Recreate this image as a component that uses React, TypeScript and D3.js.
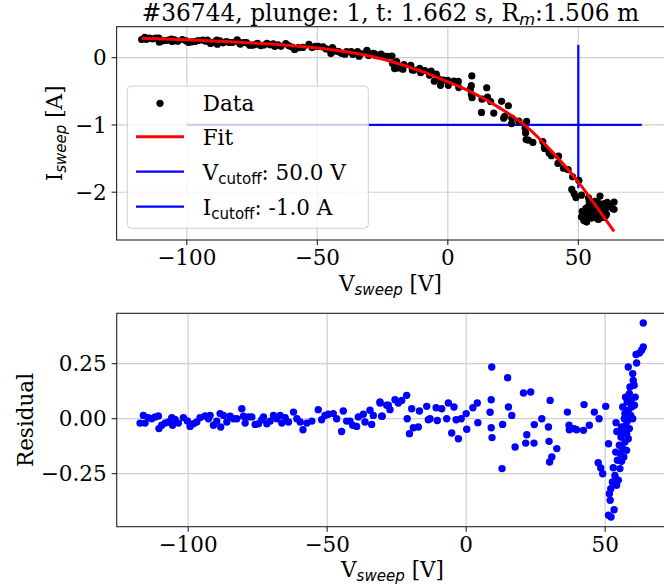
import React from 'react';
import * as d3 from 'd3';

// Sweep voltage [V] of each sample (shared by both panels)
const sweepV = [
  -117.3, -116.1, -115.5, -114.3, -113.1, -111.9, -110.7, -110.5, -109.5, -108.3,
  -107.1, -105.9, -105.6, -104.7, -103.5, -101.7, -100.3, -99.3, -98.1, -96.9,
  -95.7, -93.9, -92.7, -92.1, -90.9, -89.7, -88.5, -88.3, -87.3, -86.1,
  -84.9, -83.7, -82.5, -80.7, -80.1, -79.5, -78.3, -77.1, -75.9, -74.7,
  -73.5, -72.9, -71.7, -70.5, -69.3, -68.1, -66.9, -66.3, -65.1, -63.9,
  -62.1, -60.9, -59.7, -58.7, -57.3, -55.5, -53.2, -52.0, -50.8, -49.6,
  -47.8, -46.6, -44.8, -44.2, -43.0, -41.8, -40.8, -39.4, -38.8, -37.0,
  -36.4, -34.6, -34.0, -33.4, -31.0, -30.4, -28.6,
  -31.0, -30.2, -28.0, -27.4, -25.6, -24.4, -23.2, -21.4, -21.2, -20.4,
  -19.6, -19.0, -17.2, -16.8, -14.2, -13.6, -13.0, -10.8, -10.4, -8.8,
  -7.0, -6.4, -5.2, -4.4, -3.6, -2.8, -1.8, 0.0, 0.2, 2.4,
  4.0, 4.2, 8.6, 9.0, 9.0, 9.2, 9.3, 12.9, 13.1, 14.9,
  15.2, 16.4, 17.6, 20.6, 21.4, 21.8, 23.2, 24.4, 24.5, 27.2,
  29.6, 29.8, 30.0, 30.2, 30.8, 32.6, 36.4, 37.0, 37.1, 38.8,
  39.7, 42.2, 42.4, 44.3, 46.1, 47.5, 47.8, 48.4, 49.1, 50.2,
  51.2, 51.2, 51.5, 51.8, 52.0, 52.1, 52.6, 52.9, 53.2, 53.5,
  53.8, 53.9, 54.2, 54.1, 54.4, 54.7, 55.1, 55.3, 55.5, 55.7,
  55.9, 55.9, 56.3, 56.3, 56.5, 56.7, 56.9, 57.1, 57.1, 57.3,
  57.5, 57.7, 57.7, 57.9, 58.1, 58.3, 58.3, 58.3, 58.7, 58.7,
  58.9, 59.2, 59.3, 59.5, 59.9, 59.9, 60.1, 60.4, 60.5, 60.8,
  61.1, 61.3, 62.3, 63.1, 63.7, 63.7,
];

// Measured probe current [A]
const currentI = [
  0.27, 0.30, 0.27, 0.29, 0.28, 0.29, 0.29, 0.23, 0.25, 0.255,
  0.26, 0.275, 0.24, 0.265, 0.245, 0.27, 0.25, 0.225, 0.235, 0.24,
  0.255, 0.26, 0.245, 0.26, 0.21, 0.23, 0.26, 0.2, 0.25, 0.22,
  0.24, 0.227, 0.225, 0.266, 0.231, 0.199, 0.225, 0.222, 0.186, 0.186,
  0.201, 0.213, 0.179, 0.188, 0.211, 0.193, 0.205, 0.169, 0.191, 0.168,
  0.209, 0.176, 0.158, 0.121, 0.148, 0.152, 0.199, 0.15, 0.167, 0.168,
  0.16, 0.13, 0.061, 0.15, 0.097, 0.09, 0.065, 0.051, 0.09, 0.089,
  0.05, 0.09, 0.022, 0.059, 0.098, 0.034, 0.064,
  0.108, 0.036, 0.057, 0.03, 0.053, 0.024, 0.021, 0.023, -0.086, -0.163,
  -0.06, -0.153, -0.172, -0.103, -0.114, -0.182, -0.184, -0.16, -0.223, -0.192,
  -0.262, -0.199, -0.352, -0.245, -0.315, -0.412, -0.335, -0.337, -0.411, -0.348,
  -0.353, -0.445, -0.469, -0.417, -0.545, -0.272, -0.595, -0.814, -0.617, -0.447,
  -0.587, -0.652, -0.824, -0.649, -0.899, -0.872, -0.715, -0.98, -0.899, -0.944,
  -1.047, -1.118, -1.217, -0.945, -1.226, -1.26, -1.246, -1.33, -1.354, -1.417,
  -1.458, -1.572, -1.464, -1.644, -1.665, -1.958, -1.771, -2.022, -2.08, -1.824,
  -2.044, -2.369, -2.286, -2.331, -2.288, -2.422, -2.288, -2.238, -2.444, -2.303,
  -2.212, -2.083, -2.138, -2.378, -2.279, -2.385, -2.246, -2.363, -2.305, -2.239,
  -2.205, -2.361, -2.324, -2.135, -2.259, -2.382, -2.219, -2.335, -2.206, -2.142,
  -2.28, -2.328, -2.404, -2.195, -2.289, -2.057, -2.254, -2.383, -2.198, -2.357,
  -2.179, -2.323, -2.261, -2.301, -2.17, -2.375, -2.212, -2.25, -2.347, -2.327,
  -2.15, -2.2, -2.211, -2.243, -2.254, -2.145,
];

// Fit residual (data - fit)
const residual = [
  -0.02, 0.015, -0.02, 0.005, 0, 0.008, 0.012, -0.045, -0.03, -0.02,
  -0.015, 0.005, -0.03, -0.003, -0.02, 0.005, -0.01, -0.035, -0.023, -0.015,
  0.005, 0.012, 0, 0.015, -0.03, -0.011, 0.023, -0.038, 0.015, -0.015,
  0.011, 0, 0, 0.045, 0.011, -0.02, 0.008, 0.008, -0.026, -0.023,
  -0.005, 0.008, -0.023, -0.011, 0.015, 0, 0.015, -0.02, 0.005, -0.015,
  0.03, 0, -0.015, -0.05, -0.02, -0.011, 0.041, -0.005, 0.015, 0.02,
  0.023, 0, -0.058, 0.035, -0.011, -0.011, -0.03, -0.035, 0.008, 0.02,
  -0.015, 0.038, -0.026, 0.015, 0.071, 0.011, 0.061,
  0.076, 0.011, 0.061, 0.041, 0.086, 0.071, 0.083, 0.106, 0, -0.068,
  0.045, -0.041, -0.038, 0.035, 0.056, -0.005, 0, 0.05, -0.008, 0.045,
  0, 0.071, -0.065, 0.053, -0.005, -0.091, 0, 0.023, -0.048, 0.05,
  0.071, -0.018, 0.029, 0.086, -0.041, 0.235, -0.086, -0.227, -0.026, 0.186,
  0.053, 0.015, -0.129, 0.117, -0.111, -0.073, 0.121, -0.111, -0.027, 0,
  -0.038, -0.103, -0.197, 0.083, -0.174, -0.136, 0.03, -0.03, -0.05, -0.045,
  -0.05, -0.053, 0.064, -0.03, 0.03, -0.2, 0, -0.224, -0.25, 0.056,
  -0.114, -0.439, -0.341, -0.371, -0.318, -0.447, -0.288, -0.223, -0.414, -0.258,
  -0.152, -0.018, -0.058, -0.303, -0.189, -0.28, -0.121, -0.227, -0.159, -0.083,
  -0.038, -0.194, -0.136, 0.053, -0.061, -0.174, 0, -0.106, 0.023, 0.098,
  -0.03, -0.068, -0.144, 0.076, -0.008, 0.235, 0.038, -0.091, 0.114, -0.045,
  0.144, 0.015, 0.083, 0.053, 0.205, 0, 0.174, 0.152, 0.061, 0.098,
  0.292, 0.253, 0.298, 0.311, 0.326, 0.435,
];

// Fit curve
const fitV = [-117.3, -100, -80, -60, -50, -40, -30, -20, -10, 0, 10, 20, 30, 40, 50, 55, 60, 63.7];
const fitI = [0.29, 0.265, 0.23, 0.18, 0.145, 0.095, 0.025, -0.075, -0.205, -0.36, -0.53, -0.75, -1.02, -1.4, -1.85, -2.11, -2.38, -2.58];

// Cutoff markers
const vCutoff = 50.0;
const vCutoffSpan = [0.19, -1.94];
const iCutoff = -1.0;
const iCutoffSpan = [-100, 74.3];

const xTicks = [-100, -50, 0, 50];
const yTicksTop = [0, -1, -2];
const yTicksRes = [0.25, 0, -0.25];

const SERIF = "'DejaVu Serif', serif";
const SANS = "'DejaVu Sans', sans-serif";
const FS = 21.5;

const minus = (s: string) => s.replace('-', '\u2212');

export default function App() {
  const W = 664, H = 586;
  const xTop = d3.scaleLinear().domain([-126.9, 83.9]).range([116.6, 666.8]);
  const yTop = d3.scaleLinear().domain([-2.71, 0.46]).range([240, 26.7]);
  const xRes = d3.scaleLinear().domain([-125.7, 72.7]).range([116.7, 668.3]);
  const yRes = d3.scaleLinear().domain([-0.491, 0.479]).range([526.7, 313.3]);

  const fitPts = fitV.map((v, i) => [v, fitI[i]] as [number, number]);
  const fitPath = d3.line<[number, number]>()
    .x(d => xTop(d[0])).y(d => yTop(d[1]))
    .curve(d3.curveMonotoneX)(fitPts) || '';

  const gridColor = '#cfcfcf';
  const spine = '#222';

  const axesFrame = (x: any, y: any, yTicks: number[], yFmt: (v: number) => string) => {
    const [x0, x1] = x.range();
    const [y1, y0] = y.range();
    return (
      <g>
        {xTicks.map(t => (
          <line key={'gx' + t} x1={x(t)} x2={x(t)} y1={y0} y2={y1} stroke={gridColor} strokeWidth={1.2} />
        ))}
        {yTicks.map(t => (
          <line key={'gy' + t} x1={x0} x2={x1} y1={y(t)} y2={y(t)} stroke={gridColor} strokeWidth={1.2} />
        ))}
        <rect x={x0} y={y0} width={x1 - x0} height={y1 - y0} fill="none" stroke={spine} strokeWidth={1.1} />
        {xTicks.map(t => (
          <g key={'tx' + t}>
            <line x1={x(t)} x2={x(t)} y1={y1} y2={y1 + 5} stroke={spine} strokeWidth={1.1} />
            <text x={x(t)} y={y1 + 25} textAnchor="middle" fontFamily={SERIF} fontSize={FS} fill="#000">
              {minus(String(t))}
            </text>
          </g>
        ))}
        {yTicks.map(t => (
          <g key={'ty' + t}>
            <line x1={x0 - 5} x2={x0} y1={y(t)} y2={y(t)} stroke={spine} strokeWidth={1.1} />
            <text x={x0 - 10} y={y(t) + 7.8} textAnchor="end" fontFamily={SERIF} fontSize={FS} fill="#000">
              {minus(yFmt(t))}
            </text>
          </g>
        ))}
      </g>
    );
  };

  const xLabel = (cx: number, baseline: number) => (
    <text x={cx} y={baseline} textAnchor="middle" fontFamily={SERIF} fontSize={FS} fill="#000">
      V<tspan fontFamily={SANS} fontStyle="italic" fontSize={FS * 0.7} dy={4}>sweep</tspan>
      <tspan dy={-4}> [V]</tspan>
    </text>
  );

  const legX = 127.3, legY = 86, legW = 241, legH = 142.3;
  const rowY = [103.3, 136.7, 171.7, 206.7];

  return (
    <svg width={W} height={H} style={{ position: 'absolute', left: 0, top: 0, background: '#fff' }}>
      <rect x={0} y={0} width={W} height={H} fill="#fff" />
      {/* Title */}
      <text x={390.4} y={20.5} textAnchor="middle" fontFamily={SERIF} fontSize={23.3} fill="#000">
        #36744, plunge: 1, t: 1.662 s, R<tspan fontFamily={SANS} fontStyle="italic" fontSize={23.3 * 0.7} dy={4}>m</tspan>
        <tspan dy={-4}>:1.506 m</tspan>
      </text>

      {/* Top panel */}
      {axesFrame(xTop, yTop, yTicksTop, v => String(v))}
      <line x1={xTop(vCutoff)} x2={xTop(vCutoff)} y1={yTop(vCutoffSpan[0])} y2={yTop(vCutoffSpan[1])} stroke="#0000ff" strokeWidth={2.2} />
      <line x1={xTop(iCutoffSpan[0])} x2={xTop(iCutoffSpan[1])} y1={yTop(iCutoff)} y2={yTop(iCutoff)} stroke="#0000ff" strokeWidth={2.2} />
      {sweepV.map((v, i) => (
        <circle key={'d' + i} cx={xTop(v)} cy={yTop(currentI[i])} r={3.6} fill="#000" />
      ))}
      <path d={fitPath} fill="none" stroke="#ff0000" strokeWidth={3} />

      {/* Legend */}
      <rect x={legX} y={legY} width={legW} height={legH} rx={4} fill="#fff" fillOpacity={0.8} stroke="#d0d0d0" strokeWidth={1} />
      <circle cx={160} cy={rowY[0]} r={3.6} fill="#000" />
      <line x1={136} x2={184} y1={rowY[1]} y2={rowY[1]} stroke="#ff0000" strokeWidth={3} />
      <line x1={136} x2={184} y1={rowY[2]} y2={rowY[2]} stroke="#0000ff" strokeWidth={2.2} />
      <line x1={136} x2={184} y1={rowY[3]} y2={rowY[3]} stroke="#0000ff" strokeWidth={2.2} />
      <text x={202.7} y={rowY[0] + 7.8} fontFamily={SERIF} fontSize={FS}>Data</text>
      <text x={202.7} y={rowY[1] + 7.8} fontFamily={SERIF} fontSize={FS}>Fit</text>
      <text x={202.7} y={rowY[2] + 7.8} fontFamily={SERIF} fontSize={FS}>
        V<tspan fontFamily={SANS} fontSize={FS * 0.7} dy={4}>cutoff</tspan><tspan dy={-4}>: 50.0 V</tspan>
      </text>
      <text x={202.7} y={rowY[3] + 7.8} fontFamily={SERIF} fontSize={FS}>
        I<tspan fontFamily={SANS} fontSize={FS * 0.7} dy={4}>cutoff</tspan><tspan dy={-4}>: -1.0 A</tspan>
      </text>

      {xLabel(390.4, 291)}
      <text transform={`translate(62,133.4) rotate(-90)`} textAnchor="middle" fontFamily={SERIF} fontSize={FS} fill="#000">
        I<tspan fontFamily={SANS} fontStyle="italic" fontSize={FS * 0.7} dy={4}>sweep</tspan>
        <tspan dy={-4}> [A]</tspan>
      </text>

      {/* Bottom panel */}
      {axesFrame(xRes, yRes, yTicksRes, v => v.toFixed(2))}
      {sweepV.map((v, i) => (
        <circle key={'r' + i} cx={xRes(v)} cy={yRes(residual[i])} r={3.7} fill="#0000ff" />
      ))}
      {xLabel(392.5, 577)}
      <text transform={`translate(33.3,420) rotate(-90)`} textAnchor="middle" fontFamily={SERIF} fontSize={FS} fill="#000">
        Residual
      </text>
    </svg>
  );
}
